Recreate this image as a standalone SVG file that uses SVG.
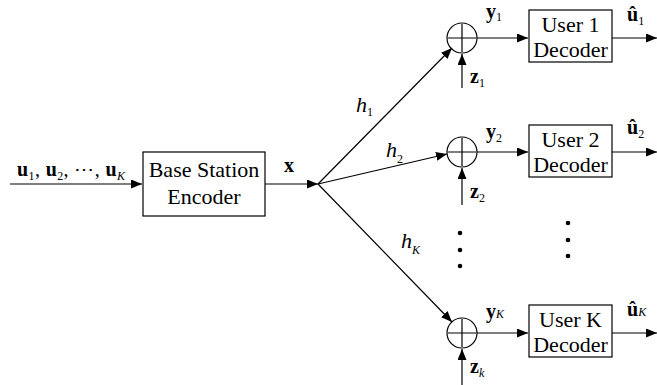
<svg xmlns="http://www.w3.org/2000/svg" width="657" height="385" viewBox="0 0 657 385" font-family="'Liberation Serif', 'Times New Roman', serif">
<style>
.ln{stroke:#000;stroke-width:1.2;fill:none}
.bx{stroke:#000;stroke-width:1.2;fill:#fff}
.t{font-family:'Liberation Serif','Times New Roman',serif;font-size:20px;fill:#000}
.bt{font-size:22px}
.h{font-size:22px;font-style:italic}
.b{font-weight:bold}
.i{font-style:italic}
.s{font-size:12px;font-weight:normal;font-style:normal}
.si{font-size:12px;font-weight:normal;font-style:italic}
</style>
<defs>
<marker id="ar" markerUnits="userSpaceOnUse" markerWidth="12" markerHeight="10" refX="11" refY="4.5" orient="auto">
<path d="M0,0 L11,4.5 L0,9 Z" fill="#000"/>
</marker>
</defs>
<g id="connectors">
<line class="ln" x1="10" y1="184" x2="142" y2="184" marker-end="url(#ar)"/>
<line class="ln" x1="265" y1="184" x2="318" y2="184" marker-end="url(#ar)"/>
<line class="ln" x1="318" y1="184" x2="452" y2="48" marker-end="url(#ar)"/>
<line class="ln" x1="318" y1="184" x2="447" y2="154" marker-end="url(#ar)"/>
<line class="ln" x1="318" y1="184" x2="452" y2="322" marker-end="url(#ar)"/>
<line class="ln" x1="477" y1="38" x2="528" y2="38" marker-end="url(#ar)"/>
<line class="ln" x1="477" y1="152" x2="528" y2="152" marker-end="url(#ar)"/>
<line class="ln" x1="477" y1="333" x2="528" y2="333" marker-end="url(#ar)"/>
<line class="ln" x1="612" y1="38" x2="657" y2="38" marker-end="url(#ar)"/>
<line class="ln" x1="612" y1="152" x2="657" y2="152" marker-end="url(#ar)"/>
<line class="ln" x1="612" y1="333" x2="657" y2="333" marker-end="url(#ar)"/>
<line class="ln" x1="462" y1="88" x2="462" y2="54" marker-end="url(#ar)"/>
<line class="ln" x1="462" y1="205" x2="462" y2="168" marker-end="url(#ar)"/>
<line class="ln" x1="462" y1="385" x2="462" y2="349" marker-end="url(#ar)"/>
</g>
<g id="input-label">
<text class="t" x="17" y="176" textLength="108" lengthAdjust="spacing"><tspan class="b">u</tspan><tspan class="s" dy="4">1</tspan><tspan dy="-4">, </tspan><tspan class="b">u</tspan><tspan class="s" dy="4">2</tspan><tspan dy="-4">, ⋯, </tspan><tspan class="b">u</tspan><tspan class="si" dy="4">K</tspan></text>
</g>
<g id="encoder">
<rect class="bx" x="143" y="152" width="122" height="64"/>
<text class="t bt" x="204" y="177" text-anchor="middle">Base Station</text>
<text class="t bt" x="204" y="204" text-anchor="middle">Encoder</text>
</g>
<text class="t b" x="284" y="172">x</text>
<g id="labels-h">
<text class="t h" x="356" y="112">h<tspan class="s" dy="4">1</tspan></text>
<text class="t h" x="386" y="157">h<tspan class="s" dy="6">2</tspan></text>
<text class="t h" x="401" y="248">h<tspan class="si" dy="6">K</tspan></text>
</g>
<g id="sum1">
<circle class="ln" cx="462" cy="38" r="15" stroke-width="1.8"/>
<path class="ln" d="M462,24 V52 M448,38 H476" stroke-width="1.8"/>
</g>
<g id="sum2">
<circle class="ln" cx="462" cy="152" r="15" stroke-width="1.8"/>
<path class="ln" d="M462,138 V166 M448,152 H476" stroke-width="1.8"/>
</g>
<g id="sumK">
<circle class="ln" cx="462" cy="333" r="15" stroke-width="1.8"/>
<path class="ln" d="M462,319 V347 M448,333 H476" stroke-width="1.8"/>
</g>
<g id="dec1">
<rect class="bx" x="529" y="10" width="83" height="52"/>
<text class="t bt" x="570.5" y="32" text-anchor="middle">User 1</text>
<text class="t bt" x="570.5" y="57" text-anchor="middle">Decoder</text>
</g>
<g id="dec2">
<rect class="bx" x="529" y="125" width="83" height="52"/>
<text class="t bt" x="570.5" y="147" text-anchor="middle">User 2</text>
<text class="t bt" x="570.5" y="172" text-anchor="middle">Decoder</text>
</g>
<g id="decK">
<rect class="bx" x="529" y="305" width="83" height="52"/>
<text class="t bt" x="570.5" y="327" text-anchor="middle">User K</text>
<text class="t bt" x="570.5" y="352" text-anchor="middle">Decoder</text>
</g>
<g id="labels-yzu">
<text class="t b" x="486" y="18">y<tspan class="s" dy="3">1</tspan></text>
<text class="t b" x="486" y="138">y<tspan class="s" dy="4">2</tspan></text>
<text class="t b" x="486" y="318">y<tspan class="si" dy="0">K</tspan></text>
<text class="t b" x="470" y="83">z<tspan class="s" dy="4">1</tspan></text>
<text class="t b" x="470" y="198">z<tspan class="s" dy="4">2</tspan></text>
<text class="t b" x="470" y="373">z<tspan class="si" dy="4">k</tspan></text>
<text class="t b" x="627" y="21">û<tspan class="s" dy="4">1</tspan></text>
<text class="t b" x="627" y="134">û<tspan class="s" dy="4">2</tspan></text>
<text class="t b" x="627" y="316">û<tspan class="si" dy="0">K</tspan></text>
</g>
<g id="dots" fill="#000">
<circle cx="460" cy="233" r="2.3"/>
<circle cx="460" cy="250" r="2.3"/>
<circle cx="460" cy="266" r="2.3"/>
<circle cx="568" cy="223" r="2.3"/>
<circle cx="568" cy="240" r="2.3"/>
<circle cx="568" cy="256" r="2.3"/>
</g>
</svg>
